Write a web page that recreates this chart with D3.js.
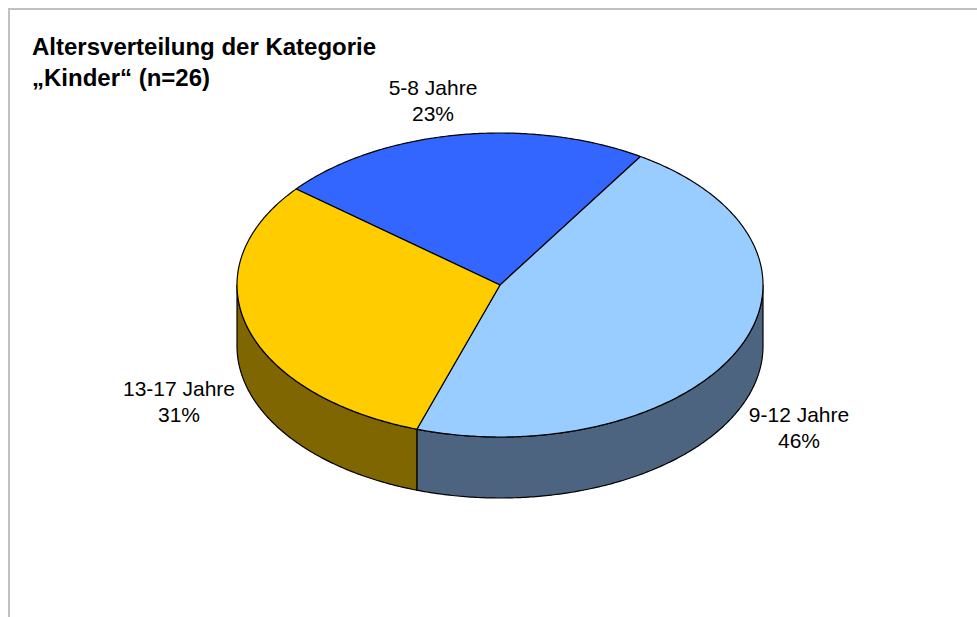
<!DOCTYPE html>
<html>
<head>
<meta charset="utf-8">
<script src="https://cdn.jsdelivr.net/npm/d3@7"></script>
<style>
  html, body { margin: 0; padding: 0; background: #fff; }
  svg { display: block; }
</style>
</head>
<body>
<svg id="chart" width="977" height="617"></svg>
<script>
// Age groups of the "Kinder" category (n = 26)
const categories = ["5-8 Jahre", "9-12 Jahre", "13-17 Jahre"];
const counts = [6, 12, 8];
const percentLabels = ["23%", "46%", "31%"];
const topColors = ["#3366ff", "#99ccff", "#ffcc00"];
const sideColors = ["#1a3380", "#4d6480", "#806600"];
const titleLines = ["Altersverteilung der Kategorie", "\u201eKinder\u201c (n=26)"];

const svg = d3.select("#chart");
const W = 977, H = 617;

// chart area frame (only top and left edges fall inside the window)
svg.append("rect")
  .attr("x", 9).attr("y", 9)
  .attr("width", W + 20).attr("height", H + 20)
  .attr("fill", "none")
  .attr("stroke", "#c0c0c0")
  .attr("stroke-width", 2);

// title
const title = svg.append("text")
  .attr("font-family", "Liberation Sans, Arial, sans-serif")
  .attr("font-weight", "bold")
  .attr("font-size", 24)
  .attr("fill", "#000");
titleLines.forEach((t, i) => {
  title.append("tspan").attr("x", 32).attr("y", 55 + i * 31).text(t);
});

// 3D pie geometry: ellipse for the top face and a wall of given depth
const cx = 500, cy = 285, rx = 263, ry = 152, depth = 61;
const pt = (a, dy = 0) => [cx + rx * Math.sin(a), cy - ry * Math.cos(a) + dy];

const startDeg = -50.8;
const pie = d3.pie()
  .sort(null)
  .value(d => d.value)
  .startAngle(startDeg * Math.PI / 180)
  .endAngle(startDeg * Math.PI / 180 + 2 * Math.PI);

const data = categories.map((c, i) => ({
  name: c, value: counts[i], pct: percentLabels[i], top: topColors[i], side: sideColors[i]
}));
const arcs = pie(data);

function arcPoints(a0, a1, dy) {
  const n = Math.max(2, Math.ceil(Math.abs(a1 - a0) / 0.01));
  return d3.range(n + 1).map(k => pt(a0 + (a1 - a0) * k / n, dy));
}

const line = d3.line();
const gSide = svg.append("g");
const gTop = svg.append("g");

// side walls: only the front half of the ellipse (angles between 90° and 270°) is visible
const frontLo = Math.PI / 2, frontHi = 3 * Math.PI / 2;
arcs.forEach(a => {
  [0, 2 * Math.PI, -2 * Math.PI].forEach(off => {
    const s = Math.max(a.startAngle + off, frontLo);
    const e = Math.min(a.endAngle + off, frontHi);
    if (e > s) {
      const topEdge = arcPoints(s, e, 0);
      const botEdge = arcPoints(e, s, depth);
      gSide.append("path")
        .attr("d", line(topEdge.concat(botEdge)) + "Z")
        .attr("fill", a.data.side)
        .attr("stroke", "#000")
        .attr("stroke-width", 1.2)
        .attr("stroke-linejoin", "round");
    }
  });
});

// top faces
arcs.forEach(a => {
  const pts = [[cx, cy]].concat(arcPoints(a.startAngle, a.endAngle, 0));
  gTop.append("path")
    .attr("d", line(pts) + "Z")
    .attr("fill", a.data.top)
    .attr("stroke", "#000")
    .attr("stroke-width", 1.2)
    .attr("stroke-linejoin", "round");
});

// data labels
const labelPos = {
  "5-8 Jahre": [433, 95],
  "9-12 Jahre": [799, 422],
  "13-17 Jahre": [179, 396]
};
const gLab = svg.append("g")
  .attr("font-family", "Liberation Sans, Arial, sans-serif")
  .attr("font-size", 21)
  .attr("fill", "#000")
  .attr("text-anchor", "middle");
arcs.forEach(a => {
  const [x, y] = labelPos[a.data.name];
  const t = gLab.append("text");
  t.append("tspan").attr("x", x).attr("y", y).text(a.data.name);
  t.append("tspan").attr("x", x).attr("y", y + 26).text(a.data.pct);
});
</script>
</body>
</html>
